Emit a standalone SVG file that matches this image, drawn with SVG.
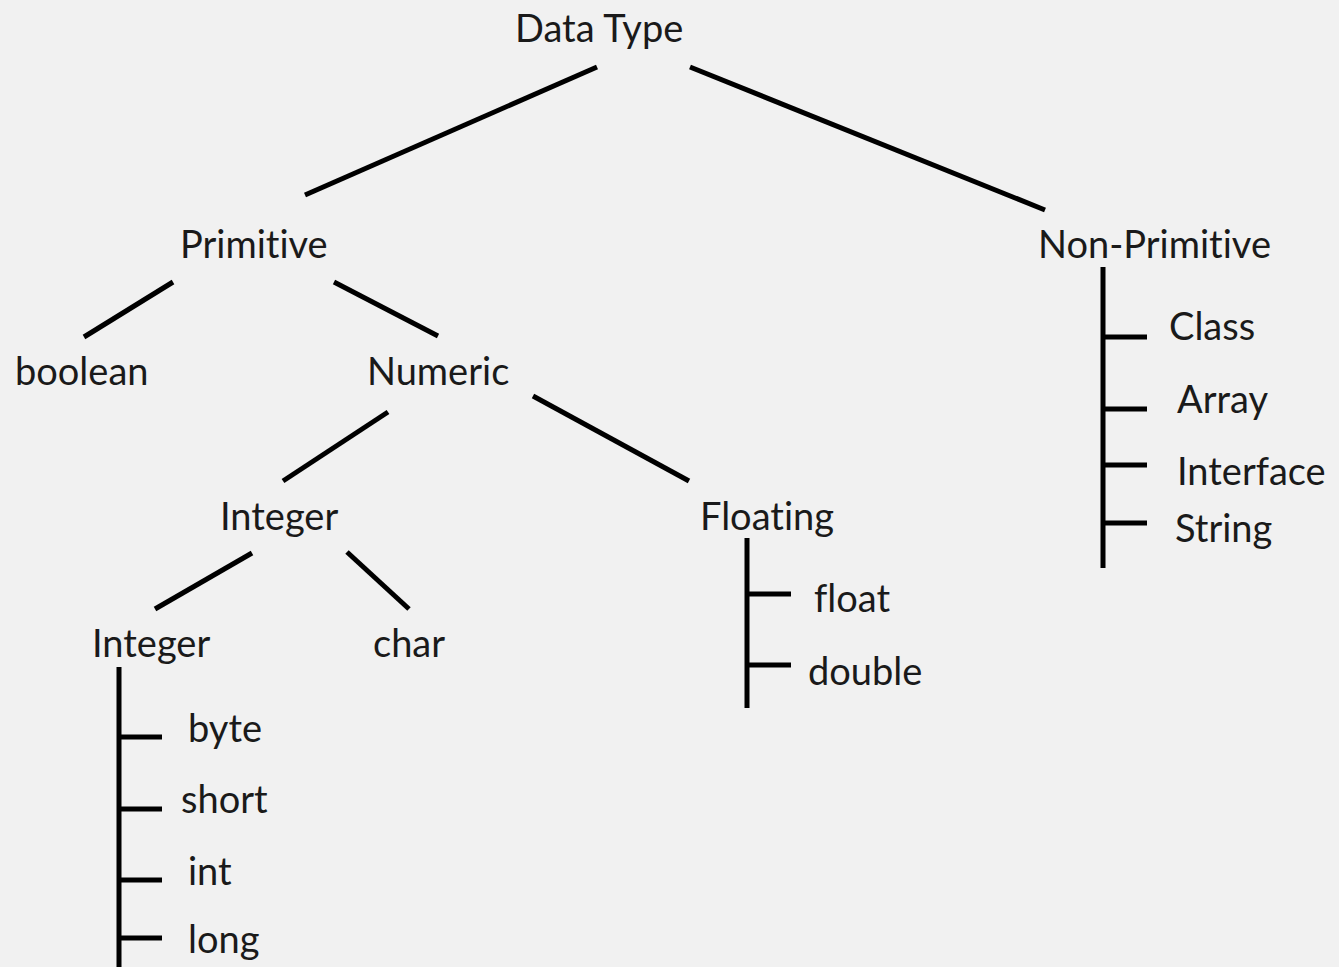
<svg xmlns="http://www.w3.org/2000/svg" width="1339" height="967" viewBox="0 0 1339 967">
<style>
.t{font-family:Lato,"Open Sans","Liberation Sans",sans-serif;font-size:38px;fill:#1a1a1a;font-variant-ligatures:none;font-feature-settings:"liga" 0}
.c line{stroke:#000;stroke-width:5;stroke-linecap:butt}
</style>
<rect width="1339" height="967" fill="#f1f1f1"/>
<g class="c" id="connectors">
<line x1="597" y1="67" x2="305" y2="195"/>
<line x1="690" y1="67" x2="1045" y2="210"/>
<line x1="173" y1="282" x2="84" y2="337"/>
<line x1="334" y1="282" x2="438" y2="336"/>
<line x1="388" y1="412" x2="283" y2="481"/>
<line x1="533" y1="396" x2="689" y2="481"/>
<line x1="252" y1="553" x2="155" y2="609"/>
<line x1="347" y1="552" x2="409" y2="609"/>
<line x1="119" y1="667" x2="119" y2="967"/>
<line x1="119" y1="737" x2="162" y2="737"/>
<line x1="119" y1="809" x2="162" y2="809"/>
<line x1="119" y1="880" x2="162" y2="880"/>
<line x1="119" y1="938" x2="162" y2="938"/>
<line x1="747" y1="538" x2="747" y2="708"/>
<line x1="747" y1="594" x2="791" y2="594"/>
<line x1="747" y1="665" x2="791" y2="665"/>
<line x1="1103" y1="267" x2="1103" y2="568"/>
<line x1="1103" y1="337" x2="1147" y2="337"/>
<line x1="1103" y1="409" x2="1147" y2="409"/>
<line x1="1103" y1="465" x2="1147" y2="465"/>
<line x1="1103" y1="523" x2="1147" y2="523"/>
</g>
<g id="datatype"><text class="t" x="515" y="42">Data Type</text></g>
<g id="primitive"><text class="t" x="180" y="258">Primitive</text></g>
<g id="nonprimitive"><text class="t" x="1038" y="258">Non-Primitive</text></g>
<g id="boolean"><text class="t" x="15" y="385">boolean</text></g>
<g id="numeric"><text class="t" x="367" y="385">Numeric</text></g>
<g id="integer1"><text class="t" x="220" y="530">Integer</text></g>
<g id="floating"><text class="t" x="700" y="530">Floating</text></g>
<g id="integer2"><text class="t" x="92" y="657">Integer</text></g>
<g id="char"><text class="t" x="373" y="657">char</text></g>
<g id="byte"><text class="t" x="188" y="742">byte</text></g>
<g id="short"><text class="t" x="181" y="813">short</text></g>
<g id="int"><text class="t" x="188" y="885">int</text></g>
<g id="long"><text class="t" x="188" y="953">long</text></g>
<g id="float"><text class="t" x="814" y="612">float</text></g>
<g id="double"><text class="t" x="808" y="685">double</text></g>
<g id="class"><text class="t" x="1169" y="340">Class</text></g>
<g id="array"><text class="t" x="1177" y="413">Array</text></g>
<g id="interface"><text class="t" x="1177" y="485">Interface</text></g>
<g id="string"><text class="t" x="1175" y="542">String</text></g>
</svg>
